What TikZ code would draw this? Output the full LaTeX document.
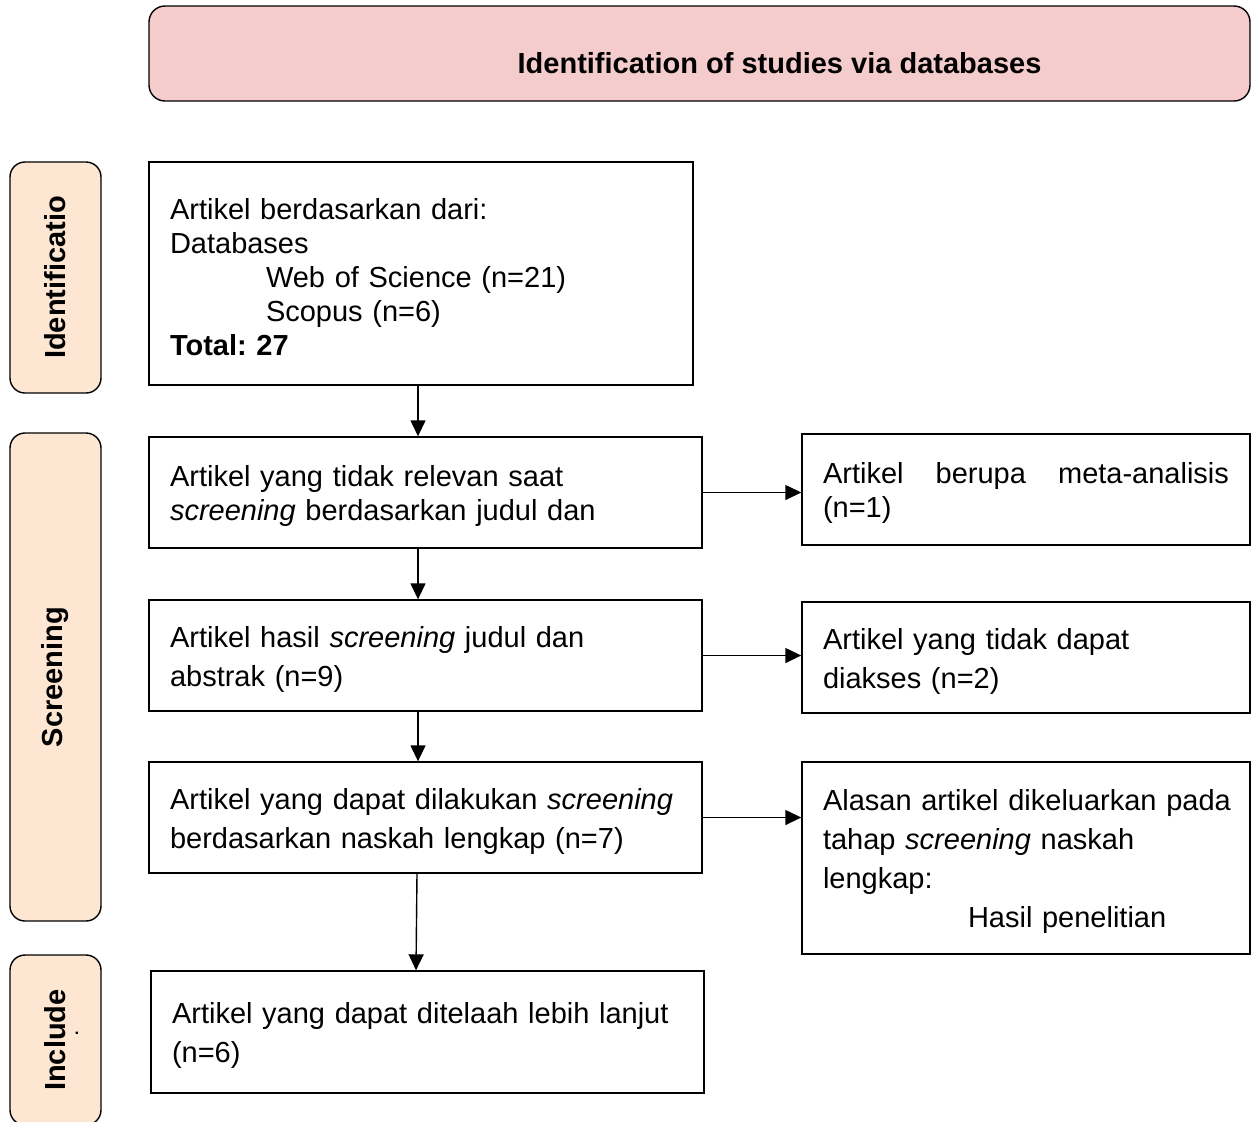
\documentclass[tikz,border=0pt]{standalone}
\usepackage{fontspec}
\setmainfont{Liberation Sans}
\usetikzlibrary{arrows.meta}
\definecolor{titlepink}{HTML}{F4CCCC}
\definecolor{phasepeach}{HTML}{FDE6D2}
\tikzstyle{phase} = [rectangle, rounded corners=7.5pt, draw=black, fill=phasepeach, rotate=90, minimum height=45.5pt, line width=0.7pt, font=\fontsize{14.5}{17}\selectfont\bfseries]
\tikzstyle{bullet} = [rectangle, draw=black, align=left, inner xsep=10.5pt, line width=0.7pt, execute at begin node={\rule{0pt}{14pt}}]
\tikzstyle{wide} = [font=\fontsize{14.5}{19.5}\selectfont]
\tikzstyle{arrow} = [line width=0.7pt, -{Triangle[length=8pt,width=7.5pt]}]

\begin{document}
\frenchspacing
\begin{tikzpicture}[x=0.5pt, y=-0.5pt, font=\fontsize{14.5}{17}\selectfont]
    \useasboundingbox (0,0) rectangle (1252,1121);
    \clip (0,0) rectangle (1252,1121);
    % header
    \node (title) [rectangle, rounded corners=8pt, draw=black, fill=titlepink, line width=0.7pt, minimum width=550.5pt, minimum height=47.5pt] at (699.5,53.5) {};
    \node (titletext) [font=\fontsize{14.5}{17}\selectfont\bfseries] at ([xshift=40pt,yshift=-5pt]title.center) {Identification of studies via databases};
    % phases
    \node (ident) [phase, minimum width=115.5pt] at (55.5,277.5) {Identificatio};
    \node (screen) [phase, minimum width=244pt] at (55.5,677) {Screening};
    \node (incl) [phase, minimum width=85pt] at (55.5,1040) {Include};
    \node (incldot) [rotate=90, font=\fontsize{8}{8}\selectfont\bfseries, inner sep=0pt] at (77,1033) {.};
    % main column
    \node (art) [bullet, text width=251pt, minimum height=111.5pt] at (421,273.5) {Artikel berdasarkan dari:\\
        Databases\\
        \hspace*{48pt}Web of Science (n=21)\\
        \hspace*{48pt}Scopus (n=6)\\
        \textbf{Total: 27}};
    \node (irrel) [bullet, text width=255.5pt, minimum height=55.5pt] at (425.5,492.5) {Artikel yang tidak relevan saat\\ \textit{screening} berdasarkan judul dan};
    \node (hasil) [bullet, wide, text width=255.5pt, minimum height=55.5pt] at (425.5,655.5) {Artikel hasil \textit{screening} judul dan\\ abstrak (n=9)};
    \node (full) [bullet, wide, text width=255.5pt, minimum height=55.5pt] at (425.5,817.5) {Artikel yang dapat dilakukan \textit{screening}\\ berdasarkan naskah lengkap (n=7)};
    \node (telaah) [bullet, wide, text width=255.5pt, minimum height=61pt] at (427.5,1032) {Artikel yang dapat ditelaah lebih lanjut\\ (n=6)};
    % excluded column
    \node (meta) [bullet, text width=203pt, minimum height=55.5pt] at (1026,489.5) {Artikel\hfill berupa\hfill meta-analisis\\ (n=1)};
    \node (akses) [bullet, wide, text width=203pt, minimum height=55.5pt] at (1026,657.5) {Artikel yang tidak dapat\\ diakses (n=2)};
    \node (alasan) [bullet, wide, text width=203pt, minimum height=96pt] at (1026,858) {\mbox{Alasan artikel dikeluarkan pada}\\ tahap \textit{screening} naskah\\ lengkap:\\ \hspace*{72.5pt}Hasil penelitian};
    \draw [arrow] ([xshift=-1.5pt]art.south) -- ([xshift=-1.5pt]art.south |- irrel.north);
    \draw [arrow] ([xshift=-3.75pt]irrel.south) -- ([xshift=-3.75pt]hasil.north);
    \draw [arrow] ([xshift=-3.75pt]hasil.south) -- ([xshift=-3.75pt]full.north);
    \draw [arrow] ([xshift=-4.25pt]full.south) -- ([xshift=-5.75pt]telaah.north);
    \draw [arrow] (irrel.east) -- (irrel.east -| meta.west);
    \draw [arrow] (hasil.east) -- (hasil.east -| akses.west);
    \draw [arrow] (full.east) -- (full.east -| alasan.west);
\end{tikzpicture}
\end{document}
